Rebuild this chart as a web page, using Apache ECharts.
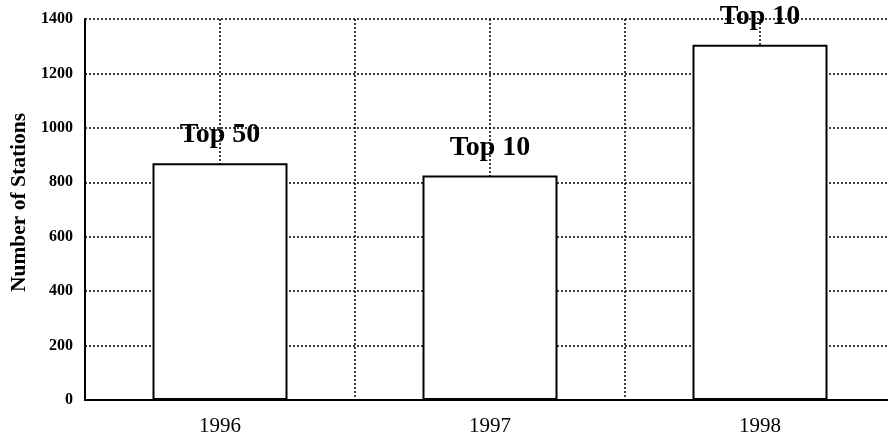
<!DOCTYPE html>
<html>
<head>
<meta charset="utf-8">
<script src="https://cdn.jsdelivr.net/npm/echarts@6/dist/echarts.min.js"></script>
<style>
  html, body { margin: 0; padding: 0; background: #fff; }
  #chart { width: 888px; height: 437px; }
</style>
</head>
<body>
<div id="chart"></div>
<script>
var years = ['1996', '1997', '1998'];
var stations = [870, 825, 1305];
var barLabels = ['Top 50', 'Top 10', 'Top 10'];
var yTicks = { min: 0, max: 1400, step: 200 };

var myChart = echarts.init(document.getElementById('chart'));

var dotted = { color: '#000', width: 1.5, type: [2, 2] };

myChart.setOption({
  animation: false,
  backgroundColor: '#fff',
  grid: { left: 85, top: 19, bottom: 37, right: -7, containLabel: false, outerBoundsMode: 'none' },
  xAxis: [
    {
      type: 'category',
      data: years,
      axisLine: { lineStyle: { color: '#000', width: 2 } },
      axisTick: { alignWithLabel: true, length: 10, lineStyle: { color: '#000', width: 2 } },
      axisLabel: { color: '#000', fontFamily: 'Liberation Serif', fontSize: 21, margin: 16 },
      splitLine: { show: false }
    },
    {
      // only here to draw the vertical dotted grid
      type: 'value',
      position: 'top',
      min: 0,
      max: 6,
      interval: 1,
      axisLine: { show: false },
      axisTick: { show: false },
      axisLabel: { show: false },
      splitLine: { show: true, lineStyle: dotted }
    }
  ],
  yAxis: {
    type: 'value',
    min: yTicks.min,
    max: yTicks.max,
    interval: yTicks.step,
    name: 'Number of Stations',
    nameLocation: 'middle',
    nameGap: 55,
    nameTextStyle: { color: '#000', fontFamily: 'Liberation Serif', fontWeight: 'bold', fontSize: 21.5, padding: [0, 0, 0, 14] },
    axisLine: { show: true, lineStyle: { color: '#000', width: 2 } },
    axisTick: { show: false },
    axisLabel: {
      color: '#000', fontFamily: 'Liberation Serif', fontWeight: 'bold', fontSize: 16, margin: 12,
      formatter: function (v) { return String(v); }
    },
    splitLine: { show: true, lineStyle: dotted }
  },
  series: [
    {
      type: 'bar',
      xAxisIndex: 0,
      data: stations,
      barWidth: '50%',
      itemStyle: { color: '#fff', borderColor: '#000', borderWidth: 2 },
      label: {
        show: true,
        position: 'top',
        distance: 14,
        color: '#000',
        fontFamily: 'Liberation Serif',
        fontWeight: 'bold',
        fontSize: 28,
        formatter: function (p) { return barLabels[p.dataIndex]; }
      }
    }
  ]
});
</script>
</body>
</html>
